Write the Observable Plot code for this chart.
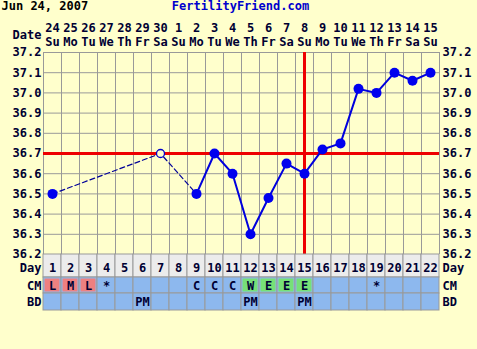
<!DOCTYPE html>
<html><head><meta charset="utf-8">
<script src="https://cdn.jsdelivr.net/npm/d3@7"></script>
<script src="https://cdn.jsdelivr.net/npm/@observablehq/plot@0.6"></script>
<style>
html,body{margin:0;padding:0;background:#ffffcc;width:477px;height:349px;overflow:hidden}
#chart svg{display:block;background:transparent;overflow:visible}
</style></head><body><div id="chart"></div>
<script>
const title = "Jun 24, 2007";
const site = "FertilityFriend.com";
const days = [1,2,3,4,5,6,7,8,9,10,11,12,13,14,15,16,17,18,19,20,21,22];
const dates = ["24","25","26","27","28","29","30","1","2","3","4","5","6","7","8","9","10","11","12","13","14","15"];
const weekdays = ["Su","Mo","Tu","We","Th","Fr","Sa","Su","Mo","Tu","We","Th","Fr","Sa","Su","Mo","Tu","We","Th","Fr","Sa","Su"];
const tempDays = [1,7,9,10,11,12,13,14,15,16,17,18,19,20,21,22];
const temps = [36.5,36.7,36.5,36.7,36.6,36.3,36.48,36.65,36.6,36.72,36.75,37.02,37.0,37.1,37.06,37.1];
const discardedDays = [7];
const dashedUntilDay = 9;
const coverline = 36.7;
const ovulationDay = 15;
const yTicks = [36.2,36.3,36.4,36.5,36.6,36.7,36.8,36.9,37.0,37.1,37.2];
const cmDays = [1,2,3,4,9,10,11,12,13,14,15,19];
const cmCodes = ["L","M","L","*","C","C","C","W","E","E","E","*"];
const bdDays = [6,12,15];
const bdCodes = ["PM","PM","PM"];

const W = 477, ML = 43, MR = 38;
const FONT = "'DejaVu Sans Mono', monospace";
const INK = "#000033", GRID = "#999999", BLUE_CELL = "#8db8ee";
const codeColor = c => (c === "L" || c === "M" || c === "H") ? "#ee8080" : (c === "W" || c === "E") ? "#77e077" : null;
const baseStyle = {fontFamily: FONT, fontSize: "12px", fontWeight: "bold", color: INK, background: "transparent", overflow: "visible"};
const xScale = {domain: [0.5, 22.5], axis: null};

const temp = tempDays.map((d, i) => ({day: d, temp: temps[i], open: discardedDays.includes(d)}));
const dashed = temp.filter(d => d.day <= dashedUntilDay);
const solid = temp.filter(d => d.day >= dashedUntilDay);
const gridX = days.map(d => d - 0.5).concat([days[days.length - 1] + 0.5]);

const main = Plot.plot({
  width: W, height: 254, marginTop: 52, marginBottom: 0, marginLeft: ML, marginRight: MR,
  style: baseStyle,
  x: xScale,
  y: {domain: [36.2, 37.2], axis: null},
  marks: [
    Plot.ruleX(gridX, {x: d => d, stroke: GRID, strokeWidth: 1}),
    Plot.ruleY(yTicks, {y: d => d, stroke: GRID, strokeWidth: 1}),
    Plot.ruleY([coverline], {y: d => d, stroke: "#ee0000", strokeWidth: 3}),
    Plot.ruleX([ovulationDay], {x: d => d, stroke: "#ee0000", strokeWidth: 3}),
    Plot.line(dashed, {x: "day", y: "temp", stroke: "#000099", strokeWidth: 1.2, strokeDasharray: "5,3"}),
    Plot.line(solid, {x: "day", y: "temp", stroke: "#0000dd", strokeWidth: 2}),
    Plot.dot(temp.filter(d => !d.open), {x: "day", y: "temp", r: 5, fill: "#0000ee"}),
    Plot.dot(temp.filter(d => d.open), {x: "day", y: "temp", r: 4, fill: "#ffffcc", stroke: "#0000cc", strokeWidth: 1.3}),
    Plot.text(yTicks, {y: d => d, text: d => d.toFixed(1), frameAnchor: "left", textAnchor: "end", dx: -2}),
    Plot.text(yTicks, {y: d => d, text: d => d.toFixed(1), frameAnchor: "right", textAnchor: "start", dx: 3}),
    Plot.text(days, {x: d => d, text: (d, i) => dates[i], frameAnchor: "top", lineAnchor: "middle", dy: -24}),
    Plot.text(days, {x: d => d, text: (d, i) => weekdays[i], frameAnchor: "top", lineAnchor: "middle", dy: -10.5}),
    Plot.text(["Date"], {text: d => d, frameAnchor: "top-left", lineAnchor: "middle", textAnchor: "end", dx: -2, dy: -17.5}),
    Plot.text([title], {text: d => d, frameAnchor: "top-left", lineAnchor: "middle", textAnchor: "start", dx: -42, dy: -46, fill: "#000000"}),
    Plot.text([site], {text: d => d, frameAnchor: "top", lineAnchor: "middle", dx: -1, dy: -46, fill: "#0000cc"})
  ]
});

function row(label, height, marginBottom, fillAll, codesDays, codes, textDy) {
  const items = codesDays.map((d, i) => ({day: d, code: codes[i], color: codeColor(codes[i])}));
  return Plot.plot({
    width: W, height, marginTop: 0, marginBottom, marginLeft: ML, marginRight: MR,
    style: baseStyle,
    x: xScale,
    marks: [
      Plot.rect(days, {x1: d => d - 0.5, x2: d => d + 0.5, fill: fillAll, stroke: GRID, strokeWidth: 1}),
      Plot.rect(items.filter(d => d.color), {x1: d => d.day - 0.5, x2: d => d.day + 0.5, fill: d => d.color, inset: 1.5}),
      Plot.text(items, {x: "day", text: "code", frameAnchor: "middle", dy: textDy}),
      Plot.text([label], {text: d => d, frameAnchor: "left", textAnchor: "end", dx: -2, dy: textDy}),
      Plot.text([label], {text: d => d, frameAnchor: "right", textAnchor: "start", dx: 3, dy: textDy})
    ]
  });
}

const chart = document.getElementById("chart");
chart.append(main);
chart.append(row("Day", 23, 0, "#ececec", days, days.map(String), 2));
chart.append(row("CM", 16, 0, BLUE_CELL, cmDays, cmCodes, 0.5));
chart.append(row("BD", 18, 1, BLUE_CELL, bdDays, bdCodes, 0));
</script></body></html>
